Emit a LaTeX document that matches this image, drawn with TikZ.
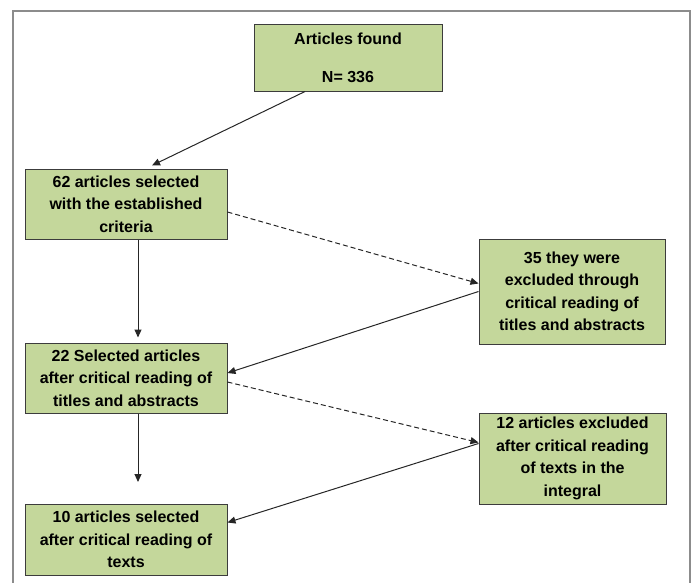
\documentclass[tikz,border=0pt]{standalone}
\usepackage{fontspec}
\setmainfont{Liberation Sans}
\usetikzlibrary{arrows.meta}
\definecolor{boxgreen}{RGB}{196,215,155}
\definecolor{boxline}{RGB}{60,60,60}
\definecolor{framegray}{RGB}{140,140,140}
\begin{document}
\begin{tikzpicture}[x=1pt, y=-1pt]
    % Stili
    \tikzset{
        box/.style={rectangle, draw=boxline, fill=boxgreen, line width=1pt, inner sep=0pt, align=center,
            font=\fontsize{16}{22.5}\selectfont\bfseries},
        arrow/.style={-{Triangle[width=7pt,length=8pt]}, line width=1pt, draw=black!85},
        dasharrow/.style={arrow, dash pattern=on 5pt off 3pt}
    }
    \useasboundingbox (0,0) rectangle (695,582);
    \clip (0,0) rectangle (695,582);

    % Cornice
    \draw[framegray, line width=2.5pt] (13,11) rectangle (690,600);

    % Blocchi
    \node[box, minimum width=188pt, minimum height=67pt] (found) at (348,57.5) {Articles found\\[15.5pt]N= 336};
    \node[box, minimum width=202pt, minimum height=70pt] (sel62) at (126,204) {62 articles selected\\with the established\\criteria};
    \node[box, minimum width=186pt, minimum height=105pt] (excl35) at (572,291.5) {35 they were\\excluded through\\critical reading of\\titles and abstracts};
    \node[box, minimum width=202pt, minimum height=70pt] (sel22) at (126,378) {22 Selected articles\\after critical reading of\\titles and abstracts};
    \node[box, minimum width=187pt, minimum height=91pt] (excl12) at (572.5,458.5) {12 articles excluded\\after critical reading\\of texts in the\\integral};
    \node[box, minimum width=202pt, minimum height=71pt] (sel10) at (126,539.5) {10 articles selected\\after critical reading of\\texts};
    \coordinate (gap) at (138,482);

    % Frecce
    \draw[arrow] ([xshift=-43pt]found.south) -- ([xshift=26pt,yshift=3pt]sel62.north);
    \draw[arrow] ([xshift=12pt]sel62.south) -- ([xshift=12pt,yshift=5pt]sel22.north);
    \draw[dasharrow] ([yshift=-8pt]sel62.east) -- ([yshift=8pt]excl35.west);
    \draw[arrow] (excl35.west) -- ([yshift=5pt]sel22.east);
    \draw[dasharrow] ([yshift=-4pt]sel22.east) -- ([yshift=16pt]excl12.west);
    \draw[arrow] ([yshift=15pt]excl12.west) -- ([yshift=17pt]sel10.east);
    \draw[arrow] ([xshift=12pt]sel22.south) -- (gap);
\end{tikzpicture}
\end{document}
